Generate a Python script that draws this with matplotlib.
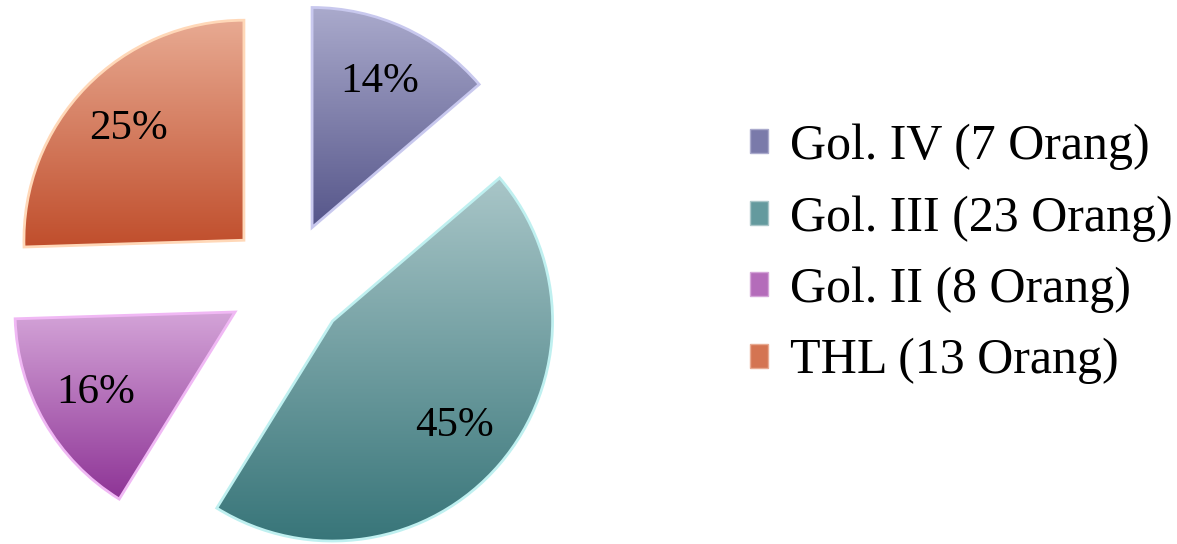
import numpy as np
import matplotlib
matplotlib.use("Agg")
import matplotlib.pyplot as plt
from matplotlib.colors import LinearSegmentedColormap
from matplotlib.patches import Rectangle

# ---- data ----
categories = ["Gol. IV (7 Orang)", "Gol. III (23 Orang)", "Gol. II (8 Orang)", "THL (13 Orang)"]
counts = [7, 23, 8, 13]
pct_labels = ["14%", "45%", "16%", "25%"]

# ---- styles ----
base_colors = ["#7a7aaa", "#649a9e", "#b46cba", "#d47452"]
light_colors = ["#aaaacc", "#a9c6c8", "#d4a4d8", "#e8aa92"]
dark_colors = ["#56568a", "#367478", "#8e3496", "#c04e2c"]
edge_colors = ["#c8c8ee", "#bff0f0", "#f0b8f4", "#ffd8b8"]

W, H = 1177, 544
fig = plt.figure(figsize=(W / 100, H / 100), dpi=100)
fig.patch.set_facecolor("white")
ax = fig.add_axes([0, 0, 1, 1])

cx, cy, R = 287, 262, 220
explode = [60] * 4  # absolute offset in data units (pixels here)

wedges, texts, autotexts = ax.pie(
    counts, explode=explode, colors=base_colors, startangle=90, counterclock=False,
    center=(cx, cy), radius=R, autopct="%1.0f%%", pctdistance=0.73,
    wedgeprops=dict(linewidth=2.0), textprops=dict(fontsize=31, family="Liberation Serif", color="black"),
)
for t, lab in zip(autotexts, pct_labels):
    t.set_text(lab)

for w, lc, dc, ec in zip(wedges, light_colors, dark_colors, edge_colors):
    w.set_edgecolor(ec)
    v = w.get_patch_transform().transform(w.get_path().vertices)
    x0, x1 = v[:, 0].min(), v[:, 0].max()
    y0, y1 = v[:, 1].min(), v[:, 1].max()
    cmap = LinearSegmentedColormap.from_list("g", [dc, lc])
    grad = np.linspace(0, 1, 256).reshape(-1, 1)
    im = ax.imshow(grad, cmap=cmap, extent=(x0, x1, y0, y1), origin="lower",
                   aspect="auto", zorder=w.get_zorder() - 0.1, interpolation="bilinear")
    im.set_clip_path(w)
    w.set_facecolor("none")

ax.set_xlim(0, W)
ax.set_ylim(0, H)
ax.set_aspect("equal")
ax.axis("off")

# legend
handles = [Rectangle((0, 0), 1, 1, facecolor=c, edgecolor=lc, linewidth=1.0)
           for c, lc in zip(base_colors, light_colors)]
leg = ax.legend(handles, categories, loc="center left", bbox_to_anchor=(750 / W, 1 - 254 / H),
                bbox_transform=fig.transFigure, frameon=False,
                prop=dict(family="Liberation Serif", size=36),
                handlelength=0.36, handleheight=0.36, handletextpad=0.45, labelspacing=0.5,
                borderpad=0, borderaxespad=0)

fig.savefig("out.png", dpi=100, facecolor="white")
